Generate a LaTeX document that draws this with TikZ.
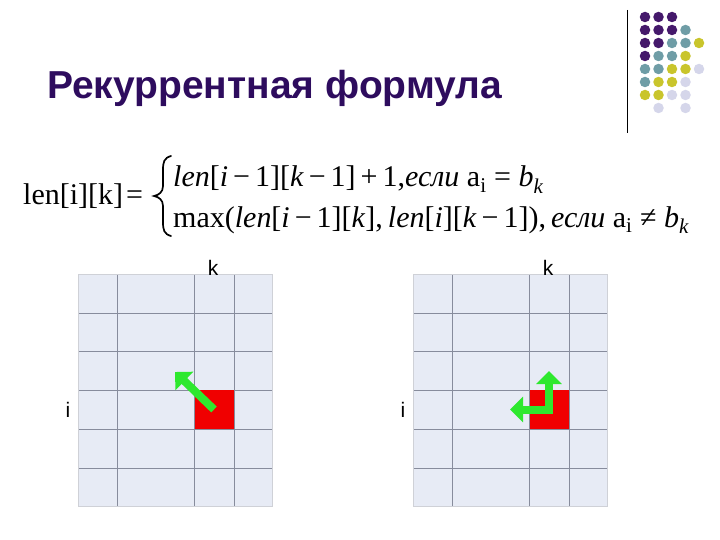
\documentclass[tikz,border=0pt]{standalone}
\usepackage{fontspec}
\setmainfont{Liberation Serif}
\newfontfamily\sansfont{Liberation Sans}
\usepackage{tikz}
\usetikzlibrary{arrows.meta}
\definecolor{titlecol}{HTML}{2E0C5E}
\definecolor{dotpurple}{HTML}{45196B}
\definecolor{dotteal}{HTML}{6F9DA6}
\definecolor{dotyellow}{HTML}{C9C52C}
\definecolor{dotlilac}{HTML}{D5D6EA}
\definecolor{cellfill}{HTML}{E7EBF5}
\definecolor{cellline}{HTML}{878C9C}
\definecolor{movegreen}{HTML}{2EE82E}
\definecolor{cellred}{HTML}{F00000}
\newcommand{\tx}[1]{\textit{#1}}
\newcommand{\mn}{\,−\,}

\begin{document}
\begin{tikzpicture}[x=1pt,y=-1pt,
  dot/.style={
    circle,inner sep=0pt,
    minimum size=10.5pt,
    fill=#1},
  cell/.style={
    rectangle,inner sep=0pt,
    minimum width=39pt,
    minimum height=39pt,
    fill=cellred},
  lbl/.style={
    font=\sansfont\fontsize{21}{21}\selectfont,
    inner sep=0pt,anchor=base},
  frm/.style={
    font=\fontsize{30}{30}\selectfont,
    inner sep=0pt,anchor=base west},
  move/.style={
    draw=movegreen,line width=8pt},
  movehead/.tip={Triangle[width=25pt,length=13pt]},
]
  \useasboundingbox (0,0) rectangle (720,540);

    % Title
  \node[font=\sansfont\bfseries\fontsize{39}{39}\selectfont,text=titlecol,
        anchor=base west,inner sep=0pt] (title) at (47,99) {Рекуррентная формула};

    % Corner ornament
  \draw[line width=1pt] (627,10) -- (627,133);
  \foreach \c/\r/\col in {1/1/dotpurple,2/1/dotpurple,3/1/dotpurple,
                          1/2/dotpurple,2/2/dotpurple,3/2/dotpurple,4/2/dotteal,
                          1/3/dotpurple,2/3/dotpurple,3/3/dotteal,4/3/dotteal,5/3/dotyellow,
                          1/4/dotpurple,2/4/dotteal,3/4/dotteal,4/4/dotyellow,
                          1/5/dotteal,2/5/dotteal,3/5/dotyellow,4/5/dotyellow,5/5/dotlilac,
                          1/6/dotteal,2/6/dotyellow,3/6/dotyellow,4/6/dotlilac,
                          1/7/dotyellow,2/7/dotyellow,3/7/dotlilac,4/7/dotlilac,
                          2/8/dotlilac,4/8/dotlilac} {
    \node[dot=\col] (dot\c\r) at (631.5+13.5*\c, 4+13*\r) {};
  }

    % Formula
  \node[frm] (lhs) at (23,205) {len[i][k]\hspace{3pt}=};
  \draw[line width=1.7pt,line cap=round]
    (171,156) .. controls (164,158) and (163,162) .. (163,170)
    -- (163,186) .. controls (163,192) and (159,195) .. (154,196)
    .. controls (159,197) and (163,200) .. (163,206)
    -- (163,222) .. controls (163,230) and (164,234) .. (171,236);
  \node[frm] (case1) at (173,187)
    {\tx{len}[\tx{i}\mn 1][\tx{k}\mn 1]\,+\,1,\tx{если} a\textsubscript{i} = \tx{b}\textsubscript{\tx{k}}};
  \node[frm] (case2) at (173,227)
    {max(\tx{len}[\tx{i}\mn 1][\tx{k}],\,\tx{len}[\tx{i}][\tx{k}\mn 1]),\,\tx{если} a\textsubscript{i} ≠ \tx{b}\textsubscript{\tx{k}}};

    % Tables
  \foreach \off/\g in {0/L,335/R} {
    \fill[cellfill] (78+\off,274) rectangle (272+\off,506);
    \foreach \x in {117,194,234}
      \draw[cellline] (\x+\off,274) -- (\x+\off,506);
    \foreach \y in {313,351,390,429,468}
      \draw[cellline] (78+\off,\y) -- (272+\off,\y);
    \draw[cellline!40] (78+\off,274) rectangle (272+\off,506);
    \node[cell] (red\g) at (214+\off,409.5) {};
    \node[lbl] (k\g) at (213+\off,275) {k};
    \node[lbl] (i\g) at (68+\off,417) {i};
  }

    % Moves
  \coordinate (diagL) at (175,372);
  \coordinate (upR) at (549,371);
  \coordinate (leftR) at (510,409.5);
  \draw[move,-{movehead}] (redL.center) -- (diagL);
  \draw[move,{movehead}-{movehead}] (leftR) -- (redR.center) -- (upR);

\end{tikzpicture}
\end{document}
